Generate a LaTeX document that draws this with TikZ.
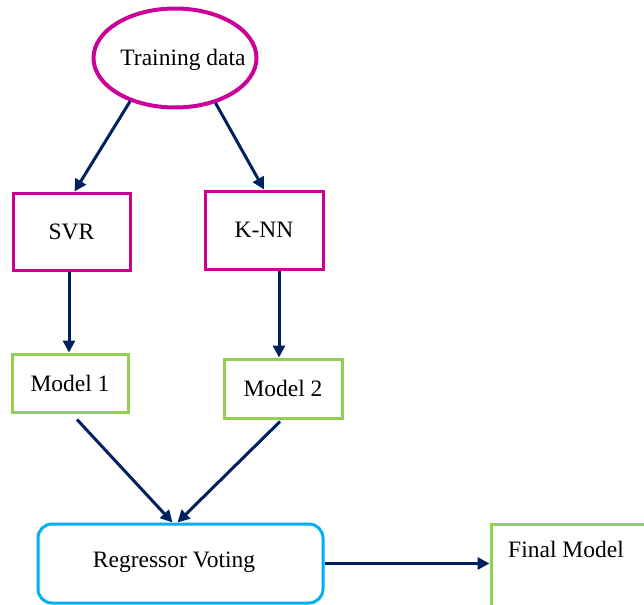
\documentclass[tikz,border=0pt]{standalone}
\usepackage{fontspec}
\setmainfont{Liberation Serif}
\usetikzlibrary{arrows.meta,shapes.geometric,calc}
\definecolor{mag}{RGB}{204,0,153}
\definecolor{grn}{RGB}{146,208,80}
\definecolor{cyn}{RGB}{0,176,240}
\definecolor{navy}{RGB}{0,32,96}
\begin{document}
\begin{tikzpicture}[x=1pt,y=-1pt,
  txt/.style={font=\fontsize{23.5}{27}\selectfont, inner sep=0pt},
  magbox/.style={draw=mag, line width=3pt, inner sep=0pt, font=\fontsize{23.5}{27}\selectfont},
  grnbox/.style={draw=grn, line width=3pt, inner sep=0pt, font=\fontsize{23.5}{27}\selectfont},
  arr/.style={draw=navy, line width=3pt, -{Triangle[length=12pt,width=12pt]}}]
\useasboundingbox (0,0) rectangle (644,604);
% nodes
\node[ellipse, draw=mag, line width=4pt, minimum width=163pt, minimum height=99pt, inner sep=0pt] (td) at (175,58) {};
\node[txt] (tdl) at (183,60) {Training data};
\node[magbox, minimum width=117pt, minimum height=77pt] (svr) at (71.5,231.5) {SVR};
\node[magbox, minimum width=118pt, minimum height=78pt] (knn) at (264,230) {K-NN};
\node[grnbox, minimum width=116pt, minimum height=58pt] (m1) at (70,383) {Model 1};
\node[grnbox, minimum width=118pt, minimum height=59pt] (m2) at (283,388.5) {Model 2};
\node[draw=cyn, line width=3pt, rounded corners=14pt, minimum width=285pt, minimum height=79pt, inner sep=0pt] (reg) at (180.5,563.5) {};
\node[txt] (regl) at (174,562) {Regressor Voting};
\node[grnbox, minimum width=159pt, minimum height=84pt] (fin) at (570.5,566) {};
\node[txt] (finl) at (566,549) {Final Model};
% connectors
\draw[arr] (td.224) -- ([xshift=3pt]svr.north);
\draw[arr] (td.312) -- (knn.north);
\draw[arr] ([xshift=-2.5pt]svr.south) -- ([xshift=-1pt]m1.north);
\draw[arr] ([xshift=15pt]knn.south) -- ([xshift=15pt]knn.south |- m2.north);
\draw[arr] ($(m1.south)+(7,6)$) -- ($(reg.north)+(-8,0)$);
\draw[arr] ($(m2.south)+(-3,2)$) -- ($(reg.north)+(-3,0)$);
\draw[arr] (reg.east) -- (reg.east -| fin.west);
\end{tikzpicture}
\end{document}
